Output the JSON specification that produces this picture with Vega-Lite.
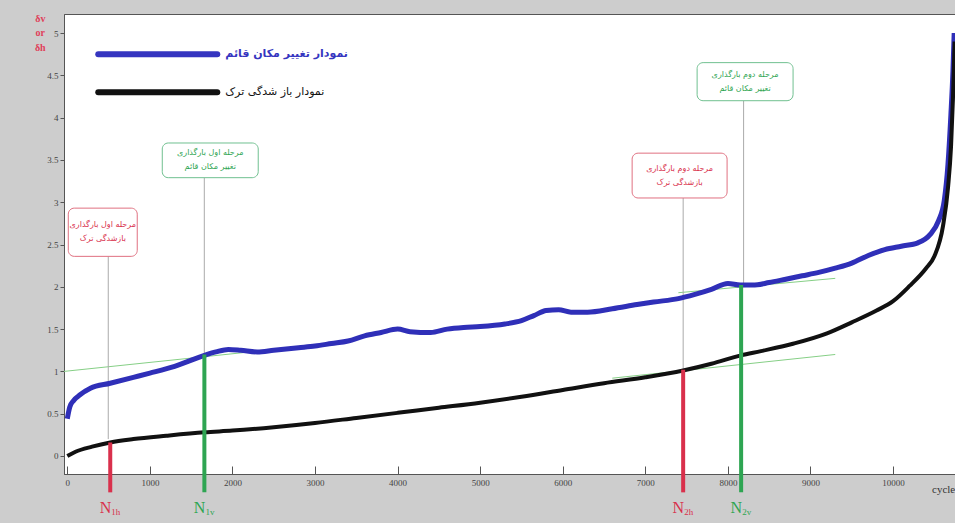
{
  "$schema": "https://vega.github.io/schema/vega-lite/v6.json",
  "width": 891,
  "height": 460,
  "autosize": {"type": "none"},
  "padding": {"left": 64, "top": 14, "right": 0, "bottom": 49},
  "background": "#cdcdcd",
  "config": {
    "view": {"fill": "white", "stroke": "#555", "strokeWidth": 1},
    "axis": {"grid": false, "domainColor": "#555", "tickColor": "#555", "labelColor": "#444", "labelFont": "Liberation Serif", "labelFontSize": 9, "titleFontSize": 9}
  },
  "datasets": {
    "blue": [
      {"cycle": 0, "value": 0.44}, {"cycle": 30, "value": 0.58}, {"cycle": 80, "value": 0.66}, {"cycle": 150, "value": 0.72},
      {"cycle": 280, "value": 0.8}, {"cycle": 520, "value": 0.86}, {"cycle": 800, "value": 0.93}, {"cycle": 1000, "value": 0.98},
      {"cycle": 1300, "value": 1.06}, {"cycle": 1660, "value": 1.19}, {"cycle": 1800, "value": 1.23}, {"cycle": 1950, "value": 1.26},
      {"cycle": 2100, "value": 1.25}, {"cycle": 2300, "value": 1.23}, {"cycle": 2500, "value": 1.25}, {"cycle": 2800, "value": 1.28},
      {"cycle": 3000, "value": 1.3}, {"cycle": 3200, "value": 1.33}, {"cycle": 3400, "value": 1.36}, {"cycle": 3600, "value": 1.42},
      {"cycle": 3800, "value": 1.46}, {"cycle": 4000, "value": 1.5}, {"cycle": 4150, "value": 1.47}, {"cycle": 4400, "value": 1.46},
      {"cycle": 4600, "value": 1.5}, {"cycle": 4800, "value": 1.52}, {"cycle": 5000, "value": 1.53}, {"cycle": 5300, "value": 1.56},
      {"cycle": 5500, "value": 1.6}, {"cycle": 5650, "value": 1.66}, {"cycle": 5800, "value": 1.72}, {"cycle": 5950, "value": 1.73},
      {"cycle": 6100, "value": 1.7}, {"cycle": 6300, "value": 1.7}, {"cycle": 6600, "value": 1.74}, {"cycle": 6900, "value": 1.79},
      {"cycle": 7100, "value": 1.82}, {"cycle": 7400, "value": 1.86}, {"cycle": 7600, "value": 1.91}, {"cycle": 7800, "value": 1.97},
      {"cycle": 8000, "value": 2.04}, {"cycle": 8150, "value": 2.02}, {"cycle": 8300, "value": 2.02}, {"cycle": 8500, "value": 2.05},
      {"cycle": 8700, "value": 2.09}, {"cycle": 8900, "value": 2.13}, {"cycle": 9100, "value": 2.17}, {"cycle": 9300, "value": 2.22},
      {"cycle": 9500, "value": 2.28}, {"cycle": 9700, "value": 2.37}, {"cycle": 9900, "value": 2.44}, {"cycle": 10100, "value": 2.48},
      {"cycle": 10300, "value": 2.52}, {"cycle": 10450, "value": 2.62}, {"cycle": 10550, "value": 2.78}, {"cycle": 10620, "value": 3.02},
      {"cycle": 10665, "value": 3.45}, {"cycle": 10700, "value": 4.03}, {"cycle": 10725, "value": 4.55}, {"cycle": 10740, "value": 5.0}
    ],
    "black": [
      {"cycle": 0, "value": 0.0}, {"cycle": 100, "value": 0.05}, {"cycle": 300, "value": 0.11}, {"cycle": 520, "value": 0.16},
      {"cycle": 800, "value": 0.2}, {"cycle": 1200, "value": 0.24}, {"cycle": 1660, "value": 0.28}, {"cycle": 2000, "value": 0.3},
      {"cycle": 2500, "value": 0.34}, {"cycle": 3000, "value": 0.39}, {"cycle": 3500, "value": 0.45}, {"cycle": 4000, "value": 0.51},
      {"cycle": 4500, "value": 0.57}, {"cycle": 5000, "value": 0.63}, {"cycle": 5500, "value": 0.7}, {"cycle": 6000, "value": 0.78},
      {"cycle": 6500, "value": 0.86}, {"cycle": 7000, "value": 0.93}, {"cycle": 7458, "value": 1.01}, {"cycle": 7800, "value": 1.09},
      {"cycle": 8160, "value": 1.19}, {"cycle": 8400, "value": 1.24}, {"cycle": 8800, "value": 1.33}, {"cycle": 9200, "value": 1.45},
      {"cycle": 9500, "value": 1.58}, {"cycle": 9800, "value": 1.72}, {"cycle": 10000, "value": 1.83}, {"cycle": 10200, "value": 2.01},
      {"cycle": 10400, "value": 2.22}, {"cycle": 10500, "value": 2.36}, {"cycle": 10605, "value": 2.72}, {"cycle": 10666, "value": 3.18},
      {"cycle": 10702, "value": 3.66}, {"cycle": 10726, "value": 4.25}, {"cycle": 10745, "value": 4.9}
    ],
    "tangents": [
      {"id": "t1", "cycle": -40, "value": 1.0}, {"id": "t1", "cycle": 2700, "value": 1.28},
      {"id": "t2", "cycle": 6600, "value": 0.92}, {"id": "t2", "cycle": 9300, "value": 1.2},
      {"id": "t3", "cycle": 7400, "value": 1.93}, {"id": "t3", "cycle": 9300, "value": 2.1}
    ],
    "guides": [
      {"cycle": 496, "top": 2.36, "bottom": 0.2},
      {"cycle": 1659, "top": 3.29, "bottom": 1.2},
      {"cycle": 7458, "top": 3.05, "bottom": 1.0},
      {"cycle": 8190, "top": 4.2, "bottom": 2.02}
    ],
    "markers": [
      {"cycle": 520, "top": 0.16, "bottom": -0.43, "kind": "h", "label": "N", "sub": "1h"},
      {"cycle": 1660, "top": 1.2, "bottom": -0.43, "kind": "v", "label": "N", "sub": "1v"},
      {"cycle": 7458, "top": 1.02, "bottom": -0.43, "kind": "h", "label": "N", "sub": "2h"},
      {"cycle": 8160, "top": 2.02, "bottom": -0.43, "kind": "v", "label": "N", "sub": "2v"}
    ],
    "boxes": [
      {"x1": 12, "x2": 847, "y1": 2.93, "y2": 2.36, "kind": "h", "text": "مرحله اول بارگذاری\nبازشدگی ترک"},
      {"x1": 1150, "x2": 2312, "y1": 3.7, "y2": 3.29, "kind": "v", "text": "مرحله اول بارگذاری\nتغییر مکان قائم"},
      {"x1": 6840, "x2": 7990, "y1": 3.58, "y2": 3.05, "kind": "h", "text": "مرحله دوم بارگذاری\nبازشدگی ترک"},
      {"x1": 7627, "x2": 8789, "y1": 4.65, "y2": 4.2, "kind": "v", "text": "مرحله دوم بارگذاری\nتغییر مکان قائم"}
    ],
    "legend": [
      {"x1": 375, "x2": 1816, "tx": 1913, "y": 4.75, "s": "b", "text": "نمودار تغییر مکان قائم"},
      {"x1": 375, "x2": 1816, "tx": 1913, "y": 4.3, "s": "k", "text": "نمودار باز شدگی ترک"}
    ],
    "ytitle": [
      {"cycle": -327, "value": 5.17, "text": "δv"},
      {"cycle": -327, "value": 5.0, "text": "or"},
      {"cycle": -327, "value": 4.82, "text": "δh"}
    ],
    "xtitle": [{"cycle": 10472, "value": -0.4, "text": "cycle"}]
  },
  "layer": [
    {
      "data": {"name": "tangents"},
      "mark": {"type": "line", "color": "#86cf86", "strokeWidth": 1},
      "encoding": {
        "x": {"field": "cycle", "type": "quantitative", "scale": {"domain": [-40, 10750], "nice": false, "zero": false},
          "axis": {"values": [0, 1000, 2000, 3000, 4000, 5000, 6000, 7000, 8000, 9000, 10000], "format": "d", "title": null, "tickSize": -8, "labelPadding": 12}},
        "y": {"field": "value", "type": "quantitative", "scale": {"domain": [-0.213, 5.225], "nice": false, "zero": false},
          "axis": {"values": [0, 0.5, 1, 1.5, 2, 2.5, 3, 3.5, 4, 4.5, 5], "format": "~g", "title": null, "tickSize": 4, "labelPadding": 2}},
        "detail": {"field": "id"}
      }
    },
    {
      "data": {"name": "guides"},
      "mark": {"type": "rule", "color": "#aaaaaa", "strokeWidth": 1},
      "encoding": {
        "x": {"field": "cycle", "type": "quantitative"},
        "y": {"field": "top", "type": "quantitative"},
        "y2": {"field": "bottom"}
      }
    },
    {
      "data": {"name": "blue"},
      "mark": {"type": "line", "color": "#2f2fb8", "strokeWidth": 5, "interpolate": "monotone"},
      "encoding": {
        "x": {"field": "cycle", "type": "quantitative"},
        "y": {"field": "value", "type": "quantitative"}
      }
    },
    {
      "data": {"name": "black"},
      "mark": {"type": "line", "color": "#111111", "strokeWidth": 4, "interpolate": "monotone"},
      "encoding": {
        "x": {"field": "cycle", "type": "quantitative"},
        "y": {"field": "value", "type": "quantitative"}
      }
    },
    {
      "data": {"name": "markers"},
      "mark": {"type": "rule", "strokeWidth": 4},
      "encoding": {
        "x": {"field": "cycle", "type": "quantitative"},
        "y": {"field": "top", "type": "quantitative"},
        "y2": {"field": "bottom"},
        "color": {"field": "kind", "type": "nominal", "scale": {"domain": ["h", "v"], "range": ["#d9304c", "#2ea552"]}, "legend": null}
      }
    },
    {
      "data": {"name": "markers"},
      "mark": {"type": "text", "font": "Liberation Serif", "fontSize": 16, "align": "right", "dx": 1, "dy": 3},
      "encoding": {
        "x": {"field": "cycle", "type": "quantitative"},
        "y": {"datum": -0.58, "type": "quantitative"},
        "text": {"field": "label"},
        "color": {"field": "kind", "type": "nominal", "legend": null}
      }
    },
    {
      "data": {"name": "markers"},
      "mark": {"type": "text", "font": "Liberation Serif", "fontSize": 9, "align": "left", "dx": 1, "dy": 7},
      "encoding": {
        "x": {"field": "cycle", "type": "quantitative"},
        "y": {"datum": -0.58, "type": "quantitative"},
        "text": {"field": "sub"},
        "color": {"field": "kind", "type": "nominal", "legend": null}
      }
    },
    {
      "data": {"name": "boxes"},
      "mark": {"type": "rect", "fill": "white", "strokeWidth": 1, "cornerRadius": 6},
      "encoding": {
        "x": {"field": "x1", "type": "quantitative"},
        "x2": {"field": "x2"},
        "y": {"field": "y1", "type": "quantitative"},
        "y2": {"field": "y2"},
        "stroke": {"field": "kind", "type": "nominal", "scale": {"domain": ["h", "v"], "range": ["#e07080", "#70c090"]}, "legend": null}
      }
    },
    {
      "data": {"name": "boxes"},
      "transform": [{"calculate": "(datum.x1 + datum.x2) / 2", "as": "xc"}, {"calculate": "(datum.y1 + datum.y2) / 2", "as": "yc"}],
      "mark": {"type": "text", "font": "DejaVu Sans", "fontSize": 8, "lineBreak": "\n", "lineHeight": 14, "baseline": "middle", "dy": -7},
      "encoding": {
        "x": {"field": "xc", "type": "quantitative"},
        "y": {"field": "yc", "type": "quantitative"},
        "text": {"field": "text"},
        "color": {"field": "kind", "type": "nominal", "legend": null}
      }
    },
    {
      "data": {"name": "legend"},
      "transform": [{"filter": "datum.s === 'b'"}],
      "mark": {"type": "rule", "strokeWidth": 6, "strokeCap": "round", "color": "#3535c0"},
      "encoding": {
        "x": {"field": "x1", "type": "quantitative"},
        "x2": {"field": "x2"},
        "y": {"field": "y", "type": "quantitative"}
      }
    },
    {
      "data": {"name": "legend"},
      "transform": [{"filter": "datum.s === 'k'"}],
      "mark": {"type": "rule", "strokeWidth": 6, "strokeCap": "round", "color": "#111111"},
      "encoding": {
        "x": {"field": "x1", "type": "quantitative"},
        "x2": {"field": "x2"},
        "y": {"field": "y", "type": "quantitative"}
      }
    },
    {
      "data": {"name": "legend"},
      "transform": [{"filter": "datum.s === 'b'"}],
      "mark": {"type": "text", "font": "DejaVu Sans", "fontSize": 11, "fontWeight": "bold", "align": "left", "baseline": "middle", "color": "#3535c0"},
      "encoding": {
        "x": {"field": "tx", "type": "quantitative"},
        "y": {"field": "y", "type": "quantitative"},
        "text": {"field": "text"}
      }
    },
    {
      "data": {"name": "legend"},
      "transform": [{"filter": "datum.s === 'k'"}],
      "mark": {"type": "text", "font": "DejaVu Sans", "fontSize": 11, "align": "left", "baseline": "middle", "color": "#111111"},
      "encoding": {
        "x": {"field": "tx", "type": "quantitative"},
        "y": {"field": "y", "type": "quantitative"},
        "text": {"field": "text"}
      }
    },
    {
      "data": {"name": "ytitle"},
      "mark": {"type": "text", "font": "Liberation Serif", "fontSize": 10, "fontWeight": "bold", "color": "#e0405a", "baseline": "middle"},
      "encoding": {
        "x": {"field": "cycle", "type": "quantitative"},
        "y": {"field": "value", "type": "quantitative"},
        "text": {"field": "text"}
      }
    },
    {
      "data": {"name": "xtitle"},
      "mark": {"type": "text", "font": "Liberation Serif", "fontSize": 11, "color": "#333", "align": "left", "baseline": "middle"},
      "encoding": {
        "x": {"field": "cycle", "type": "quantitative"},
        "y": {"field": "value", "type": "quantitative"},
        "text": {"field": "text"}
      }
    }
  ]
}
